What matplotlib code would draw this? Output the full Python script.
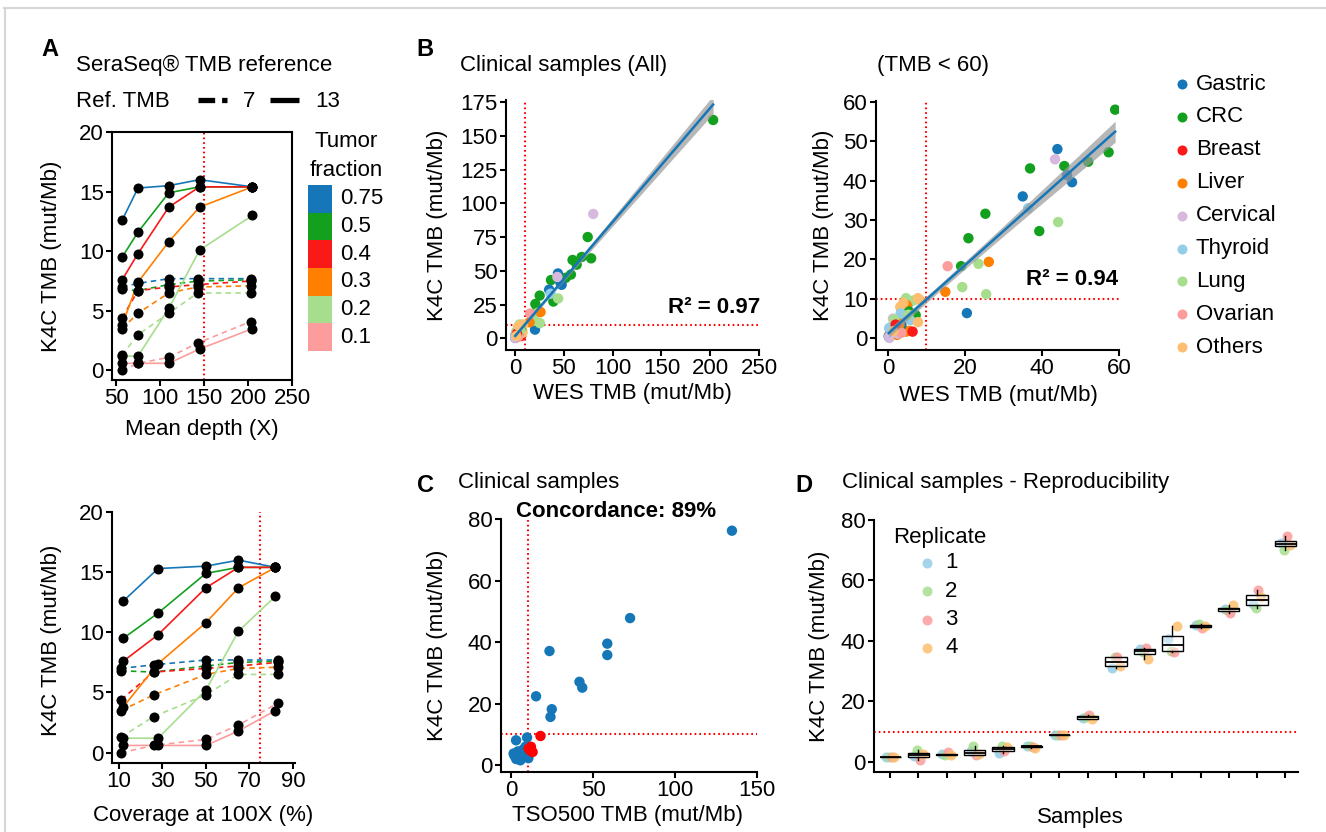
import numpy as np
import matplotlib
matplotlib.use('Agg')
import matplotlib.pyplot as plt
from matplotlib.patches import Rectangle

plt.rcParams['font.family'] = ['Liberation Sans', 'DejaVu Sans']
plt.rcParams['lines.scale_dashes'] = False

W, H = 1326, 832

# ---------------- data ----------------
# A: SeraSeq TMB reference, 6 tumor fractions x 2 reference TMB levels
tumor_frac = ['0.75', '0.5', '0.4', '0.3', '0.2', '0.1']
depth_13 = [57, 75, 110, 145, 205]
depth_7 = [57, 75, 110, 143, 203]
cov_13 = [12, 28, 50, 65, 82]
cov_7 = [11, 26, 50, 65, 83]
tmb_ref13 = [[12.6, 15.3, 15.5, 16.0, 15.4],
             [9.5, 11.6, 14.9, 15.4, 15.4],
             [7.6, 9.8, 13.7, 15.4, 15.4],
             [3.8, 7.4, 10.8, 13.7, 15.4],
             [1.2, 1.2, 5.2, 10.1, 13.0],
             [0.6, 0.6, 0.6, 1.8, 3.5]]
tmb_ref7 = [[7.0, 7.3, 7.7, 7.7, 7.7],
            [6.8, 6.7, 7.2, 7.5, 7.6],
            [4.4, 6.7, 7.0, 7.2, 7.5],
            [3.5, 4.8, 6.5, 7.0, 7.1],
            [1.3, 3.0, 4.8, 6.5, 6.5],
            [0.0, 0.6, 1.1, 2.3, 4.1]]

# B: clinical samples, WES vs K4C
tissues = ['Gastric', 'CRC', 'Breast', 'Liver', 'Cervical', 'Thyroid', 'Lung', 'Ovarian', 'Others']
wes_tmb = [203, 74.5, 78, 68.3, 63.2, 59, 57.3, 52, 45.8, 36.9, 39.3, 25.3, 20.9, 19, 7.2, 4.3,
           44, 46.5, 47.8, 35, 20.5, 5.3, 4.3, 0.3, 0.5, 1.6, 0.9,
           80.2, 43.4, 1.3, 4.7, 1.8, 0.4,
           36.4, 5.8, 1.0, 0.6,
           44.2, 23.5, 19.3, 25.5, 4.7, 6.6, 1.8,
           26.2, 14.9, 3.4, 2.7, 4.7, 1.8, 1.2, 5.5, 0.8, 4.9, 1.5,
           15.5, 2.2, 1.4,
           6.4, 1.2, 0.6,
           7.8, 7.8, 8.2, 3.2, 0.9]
k4c_tmb = [161.7, 75, 59.2, 60.2, 54.5, 58, 47.2, 44.8, 43.7, 43.1, 27.2, 31.6, 25.4, 18.3, 5.9, 7.2,
           48, 41.4, 39.6, 36, 6.4, 8.9, 8.5, 0.6, 1.0, 3.2, 2.0,
           92.1, 45.4, 5.0, 5.0, 4.6, 0.1,
           33, 4.6, 3.0, 2.5,
           29.5, 18.9, 13, 11.2, 10.2, 9.6, 4.0,
           19.4, 11.8, 7.6, 4.0, 1.7, 2.1, 1.3, 1.9, 1.5, 8.4, 2.6,
           18.3, 1.0, 2.5,
           1.7, 2.0, 1.8,
           10.2, 4.1, 9.8, 8.0, 0.8]
tissue = (['CRC'] * 16 + ['Gastric'] * 11 + ['Cervical'] * 6 + ['Thyroid'] * 4 + ['Lung'] * 7 +
          ['Liver'] * 11 + ['Ovarian'] * 3 + ['Breast'] * 3 + ['Others'] * 5)
# dense low-TMB cluster
wes_low = [0.2, 1.0, 2.4, 3.5, 1.8, 3.0, 5.5, 0.6, 2.0, 3.0, 1.3, 2.4, 0.3, 2.6,
           0.3, 3.3, 1.6, 5.3, 3.5, 2.0, 4.0, 1.4]
k4c_low = [0.5, 1.2, 2.8, 3.3, 3.4, 2.5, 6.8, 1.0, 1.5, 3.5, 2.3, 0.9, 0.4, 1.2,
           2.6, 6.3, 4.8, 6.0, 1.4, 3.5, 9.0, 1.8]
tissue_low = (['Gastric'] * 4 + ['CRC'] * 3 + ['Liver'] * 5 + ['Cervical'] * 2 + ['Thyroid'] * 2 +
              ['Lung'] * 2 + ['Ovarian', 'Breast', 'Others', 'Others'])

# C: TSO500 vs K4C
tso_tmb = [134.7, 72.5, 58.6, 58.6, 23.3, 41.6, 43.3, 15.1, 24.7, 23.9, 2.9, 9.6, 1.4, 4.5, 5.5,
           8.6, 7.6, 10.4, 3.0, 6.5, 9.0, 4.0, 7.0, 2.0, 5.0, 8.0, 3.5,
           17.8, 10.6, 13.0, 12.0, 11.5]
k4c_tso = [76.2, 47.8, 39.5, 35.8, 37.1, 27.1, 25.2, 22.4, 18.2, 15.7, 8.1, 9.0, 3.8, 3.4, 1.6,
           6.0, 3.8, 2.3, 2.0, 2.5, 3.0, 4.5, 5.0, 3.0, 2.0, 4.8, 2.8,
           9.5, 5.4, 4.3, 6.0, 4.8]
tso_group = ['blue'] * 27 + ['red'] * 5

# D: reproducibility, 15 samples x 4 replicates
rep1 = [1.5, 2.0, 2.4, 3.5, 3.0, 5.1, 8.9, 14.4, 31.0, 37.2, 40.7, 45.1, 50.6, 52.2, 72.3]
rep2 = [1.7, 3.8, 2.3, 5.2, 5.1, 5.2, 8.8, 14.9, 34.8, 36.3, 36.6, 45.6, 50.2, 51.0, 70.2]
rep3 = [1.4, 0.5, 3.3, 2.2, 3.6, 5.0, 9.0, 15.6, 34.5, 37.8, 36.2, 44.3, 49.3, 56.9, 74.7]
rep4 = [1.5, 2.6, 2.2, 2.4, 5.0, 4.5, 9.0, 14.0, 31.8, 34.0, 45.0, 44.9, 51.9, 54.6, 71.7]

# ---------------- style ----------------
c_blue, c_green, c_red, c_orange = '#1577b8', '#13a01f', '#f91919', '#ff7f00'
c_purple, c_lblue, c_lgreen, c_pink, c_lorange = '#d7b9de', '#93cde8', '#a6de8d', '#fc9c9c', '#fdbf6f'
frac_colors = [c_blue, c_green, c_red, c_orange, c_lgreen, c_pink]
tissue_colors = dict(zip(tissues, [c_blue, c_green, c_red, c_orange, c_purple, c_lblue,
                                   c_lgreen, c_pink, c_lorange]))
rep_colors = [c_lblue, c_lgreen, c_pink, c_lorange]
FS = 16

fig = plt.figure(figsize=(W / 100, H / 100), dpi=100)
ov = fig.add_axes([0, 0, 1, 1], zorder=10)
ov.set_xlim(0, W)
ov.set_ylim(H, 0)
ov.axis('off')


def px_axes(l, t, r, b):
    return fig.add_axes([l / W, 1 - b / H, (r - l) / W, (b - t) / H])


def style(ax, box=False):
    for s in ['left', 'bottom', 'top', 'right']:
        ax.spines[s].set_linewidth(1.5)
        ax.spines[s].set_visible(box or s in ('left', 'bottom'))
    ax.tick_params(length=4, width=1.5, labelsize=FS, pad=2, colors='black')
    ax.patch.set_alpha(0)


def labels(xl, xy, yl, yy):
    ov.text(xy[0], xy[1], xl, fontsize=FS, ha='center', va='center')
    ov.text(yy[0], yy[1], yl, fontsize=FS, ha='center', va='center', rotation=90)


def hv_dotted(ax, x=None, y=None):
    if x is not None:
        ax.axvline(x, color='red', ls=(0, (1.2, 2.2)), lw=1.5, zorder=1)
    if y is not None:
        ax.axhline(y, color='red', ls=(0, (1.2, 2.2)), lw=1.5, zorder=1)


def draw_a(ax, x13, x7):
    for i in range(6):
        ax.plot(x7, tmb_ref7[i], color=frac_colors[i], lw=1.2, dashes=(4, 3), zorder=2)
    for i in range(6):
        ax.plot(x13, tmb_ref13[i], color=frac_colors[i], lw=1.2, zorder=2)
    for i in range(6):
        ax.scatter(x7, tmb_ref7[i], s=52, color='black', zorder=3, lw=0)
        ax.scatter(x13, tmb_ref13[i], s=52, color='black', zorder=3, lw=0)


# ---------------- panel A top ----------------
ax = px_axes(112, 132, 292, 380)
style(ax, box=True)
draw_a(ax, depth_13, depth_7)
hv_dotted(ax, x=150)
ax.set_xlim(45.5, 250)
ax.set_ylim(-0.8, 20)
ax.set_xticks([50, 100, 150, 200, 250])
ax.set_yticks([0, 5, 10, 15, 20])
labels('Mean depth (X)', (202, 429), 'K4C TMB (mut/Mb)', (52, 256))

# ---------------- panel A bottom ----------------
ax = px_axes(112, 512, 295, 763)
style(ax)
draw_a(ax, cov_13, cov_7)
hv_dotted(ax, x=75)
ax.set_xlim(6.8, 91)
ax.set_ylim(-0.86, 20)
ax.set_xticks([10, 30, 50, 70, 90])
ax.set_yticks([0, 5, 10, 15, 20])
labels('Coverage at 100X (%)', (203, 816), 'K4C TMB (mut/Mb)', (52, 640))

# panel A headers / legends
ov.text(50, 50, 'A', fontsize=17, fontweight='bold', ha='center', va='center')
ov.text(76, 71, 'SeraSeq® TMB reference', fontsize=FS, va='baseline')
ov.text(76, 107, 'Ref. TMB', fontsize=FS, va='baseline')
ov.plot([198, 227], [100, 100], color='black', lw=3.8, dashes=(12, 5), solid_capstyle='butt',
        dash_capstyle='butt')
ov.text(243, 107, '7', fontsize=FS, va='baseline')
ov.plot([270, 299], [100, 100], color='black', lw=3.8, solid_capstyle='butt')
ov.text(315, 107, '13', fontsize=FS, va='baseline')
ov.text(346, 147, 'Tumor', fontsize=FS, va='baseline', ha='center')
ov.text(346, 176, 'fraction', fontsize=FS, va='baseline', ha='center')
blk = (351 - 185) / 6
for i, lab in enumerate(tumor_frac):
    ov.add_patch(Rectangle((308, 185 + i * blk), 24, blk, color=frac_colors[i], lw=0))
    ov.text(340, 185 + (i + 0.5) * blk, lab, fontsize=FS, va='center')

# ---------------- panel B ----------------
wes = np.array(wes_tmb + wes_low)
k4c = np.array(k4c_tmb + k4c_low)
cols = [tissue_colors[t] for t in tissue + tissue_low]


def lm_band(x, y, xs):
    b, a = np.polyfit(x, y, 1)
    n = len(x)
    s = np.sqrt(np.sum((y - (a + b * x)) ** 2) / (n - 2))
    se = s * np.sqrt(1 / n + (xs - x.mean()) ** 2 / np.sum((x - x.mean()) ** 2))
    return a + b * xs, 1.99 * se


def draw_b(ax, mask):
    x, y = wes[mask], k4c[mask]
    ax.scatter(x, y, s=56, c=[c for c, m in zip(cols, mask) if m], lw=0, zorder=2)
    xs = np.linspace(x.min(), x.max(), 100)
    fit, ci = lm_band(x, y, xs)
    ax.fill_between(xs, fit - ci, fit + ci, color='#999999', alpha=0.7, lw=0, zorder=3)
    ax.plot(xs, fit, color=c_blue, lw=1.8, zorder=4)
    hv_dotted(ax, x=10, y=10)


ax = px_axes(506, 100, 759, 350)
style(ax)
draw_b(ax, np.ones(len(wes), bool))
ax.set_xlim(-9.2, 250)
ax.set_ylim(-8.7, 176.5)
ax.set_xticks([0, 50, 100, 150, 200, 250])
ax.set_yticks([0, 25, 50, 75, 100, 125, 150, 175])
labels('WES TMB (mut/Mb)', (632, 393), 'K4C TMB (mut/Mb)', (438, 225))

ax = px_axes(876, 101, 1119, 350)
style(ax)
draw_b(ax, (wes < 60) & (k4c < 60))
ax.set_xlim(-3.1, 60)
ax.set_ylim(-2.96, 60.2)
ax.set_xticks([0, 20, 40, 60])
ax.set_yticks([0, 10, 20, 30, 40, 50, 60])
labels('WES TMB (mut/Mb)', (998, 395), 'K4C TMB (mut/Mb)', (824, 225))

ov.text(425, 50, 'B', fontsize=17, fontweight='bold', ha='center', va='center')
ov.text(460, 71, 'Clinical samples (All)', fontsize=FS, va='baseline')
ov.text(877, 71, '(TMB < 60)', fontsize=FS, va='baseline')
ov.text(760, 313, 'R² = 0.97', fontsize=FS, fontweight='bold', ha='right', va='baseline')
ov.text(1118, 285, 'R² = 0.94', fontsize=FS, fontweight='bold', ha='right', va='baseline')
for i, t in enumerate(tissues):
    yy = 84 + i * 32.9
    ov.scatter([1182], [yy], s=52, color=tissue_colors[t], lw=0)
    ov.text(1196, yy, t, fontsize=FS, va='center')

# ---------------- panel C ----------------
ax = px_axes(501, 519, 757, 772)
style(ax)
ax.scatter(tso_tmb, k4c_tso, s=56, c=[c_blue if g == 'blue' else 'red' for g in tso_group],
           lw=0, zorder=2)
hv_dotted(ax, x=10, y=10)
ax.set_xlim(-6.3, 150)
ax.set_ylim(-2.2, 80)
ax.set_xticks([0, 50, 100, 150])
ax.set_yticks([0, 20, 40, 60, 80])
labels('TSO500 TMB (mut/Mb)', (628, 815), 'K4C TMB (mut/Mb)', (438, 645))
ov.text(425, 485, 'C', fontsize=17, fontweight='bold', ha='center', va='center')
ov.text(458, 488, 'Clinical samples', fontsize=FS, va='baseline')
ov.text(516, 517, 'Concordance: 89%', fontsize=FS, fontweight='bold', va='baseline')

# ---------------- panel D ----------------
ax = px_axes(874, 520, 1298, 772)
style(ax)
reps = [rep1, rep2, rep3, rep4]
pos = np.arange(1, 16)
offs = [-0.15, -0.05, 0.05, 0.15]
for r, vals in enumerate(reps):
    ax.scatter(pos + offs[r], vals, s=52, color=rep_colors[r], alpha=0.85, lw=0, zorder=2)
box_data = [list(v) for v in zip(*reps)]
ax.boxplot(box_data, positions=pos, widths=0.75, showfliers=False, patch_artist=True,
           boxprops=dict(facecolor=(1, 1, 1, 0.45), edgecolor='black', lw=1.0),
           medianprops=dict(color='black', lw=1.3), whiskerprops=dict(color='black', lw=1.0),
           capprops=dict(visible=False), zorder=3)
hv_dotted(ax, y=10)
ax.set_xlim(0.43, 15.45)
ax.set_ylim(-3.4, 80)
ax.set_xticks(pos)
ax.set_xticklabels([])
ax.set_yticks([0, 20, 40, 60, 80])
labels('Samples', (1080, 817), 'K4C TMB (mut/Mb)', (820, 646))
ov.text(804, 485, 'D', fontsize=17, fontweight='bold', ha='center', va='center')
ov.text(842, 488, 'Clinical samples - Reproducibility', fontsize=FS, va='baseline')
ov.text(893, 543, 'Replicate', fontsize=FS, va='baseline')
for r in range(4):
    yy = 563 + r * 28.3
    ov.scatter([927], [yy], s=52, color=rep_colors[r], alpha=0.85, lw=0)
    ov.text(945, yy, str(r + 1), fontsize=FS, va='center')

# light frame
ov.plot([4, W], [7.5, 7.5], color='#d6d6d6', lw=1.5)
ov.plot([4.5, 4.5], [7.5, H], color='#d6d6d6', lw=1.5)

fig.savefig('out.png', dpi=100)
